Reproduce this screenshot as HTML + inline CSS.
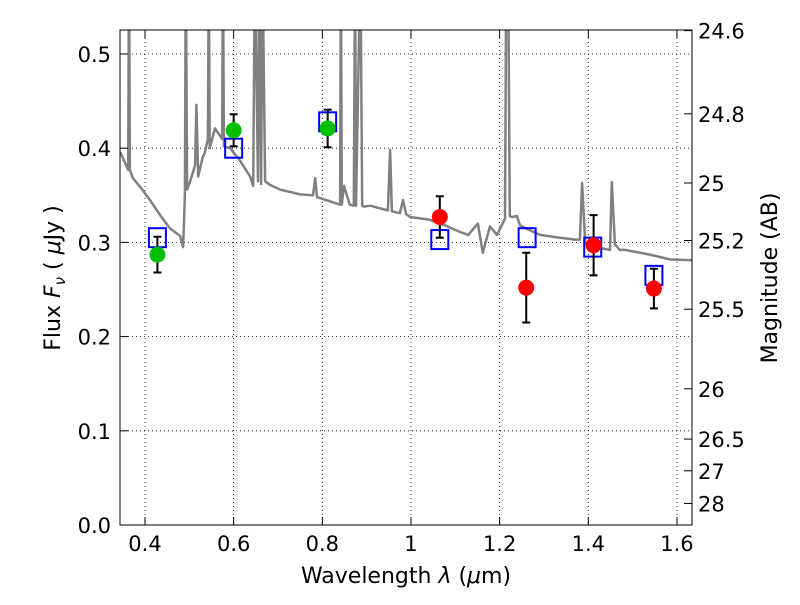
<!DOCTYPE html>
<html><head><meta charset="utf-8"><style>body{margin:0;background:#fff}svg{font-family:"DejaVu Sans","Liberation Sans",sans-serif}</style></head><body>
<svg id="chart" width="800" height="600" xmlns="http://www.w3.org/2000/svg">
<defs><clipPath id="clip"><rect x="120" y="30" width="572" height="495"/></clipPath></defs>
<g id="grid"></g>
<g id="spec" clip-path="url(#clip)"></g>
<g id="marks"></g>
<rect x="120" y="30" width="572" height="495" fill="none" stroke="#000" stroke-width="1"/>
<g id="axes"></g>
<text x="406" y="583" font-size="22" text-anchor="middle">Wavelength  <tspan font-style="italic">λ</tspan> (<tspan font-style="italic">μ</tspan>m)</text>
<text transform="translate(60,278) rotate(-90)" font-size="22" text-anchor="middle">Flux  <tspan font-style="italic">F</tspan><tspan font-style="italic" font-size="15" dy="5">ν</tspan><tspan dy="-5">  ( </tspan><tspan font-style="italic">μ</tspan>Jy )</text>
<text transform="translate(777,278) rotate(-90)" font-size="22" text-anchor="middle">Magnitude (AB)</text>
</svg>
<script>
const specLam=[0.344,0.362,0.364,0.366,0.373,0.389,0.411,0.434,0.456,0.479,0.486,0.490,0.492,0.495,0.502,0.513,0.516,0.520,0.530,0.535,0.542,0.544,0.546,0.558,0.574,0.576,0.578,0.592,0.614,0.637,0.644,0.648,0.655,0.658,0.662,0.665,0.671,0.682,0.705,0.750,0.779,0.784,0.788,0.795,0.840,0.842,0.844,0.849,0.862,0.871,0.874,0.876,0.886,0.890,0.894,0.908,0.948,0.953,0.957,0.975,0.982,0.989,0.998,1.043,1.077,1.111,1.129,1.151,1.162,1.178,1.194,1.212,1.215,1.219,1.223,1.228,1.239,1.246,1.268,1.291,1.336,1.370,1.381,1.386,1.393,1.399,1.426,1.449,1.453,1.460,1.471,1.483,1.539,1.584,1.634];
const specFlux=[0.396,0.377,0.6,0.377,0.368,0.359,0.345,0.329,0.315,0.307,0.295,0.350,0.6,0.356,0.365,0.382,0.446,0.370,0.390,0.395,0.410,0.6,0.400,0.421,0.410,0.6,0.402,0.400,0.387,0.370,0.360,0.6,0.365,0.6,0.362,0.6,0.365,0.361,0.356,0.351,0.350,0.368,0.348,0.347,0.340,0.6,0.340,0.360,0.340,0.339,0.6,0.339,0.6,0.339,0.338,0.339,0.334,0.398,0.333,0.331,0.345,0.330,0.327,0.324,0.318,0.311,0.308,0.320,0.289,0.317,0.308,0.325,0.6,0.6,0.328,0.327,0.328,0.318,0.313,0.308,0.305,0.303,0.303,0.363,0.300,0.297,0.294,0.292,0.364,0.298,0.292,0.292,0.287,0.282,0.281];
const greenLam=[0.428,0.600,0.812];
const greenFlux=[0.287,0.419,0.421];
const greenErr=[0.019,0.017,0.020];
const redLam=[1.065,1.26,1.412,1.548];
const redFlux=[0.327,0.252,0.297,0.251];
const redErr=[0.022,0.037,0.032,0.021];
const modelLam=[0.428,0.600,0.812,1.065,1.262,1.41,1.548];
const modelFlux=[0.305,0.400,0.428,0.303,0.305,0.295,0.265];
const xTicks=[0.4,0.6,0.8,1.0,1.2,1.4,1.6];
const xTickLabels=["0.4","0.6","0.8","1","1.2","1.4","1.6"];
const yTicks=[0,0.1,0.2,0.3,0.4,0.5];
const yTickLabels=["0.0","0.1","0.2","0.3","0.4","0.5"];
const magTicks=[24.6,24.8,25,25.2,25.5,26,26.5,27,28];
const magTickLabels=["24.6","24.8","25","25.2","25.5","26","26.5","27","28"];

const NS="http://www.w3.org/2000/svg";
const X=l=>145+(l-0.4)*443.3;
const Y=f=>525-f*942;
function mk(tag,attrs,parent){const e=document.createElementNS(NS,tag);for(const k in attrs)e.setAttribute(k,attrs[k]);parent.appendChild(e);return e;}
const grid=document.getElementById('grid'),axes=document.getElementById('axes'),spec=document.getElementById('spec'),marks=document.getElementById('marks');
xTicks.forEach((t,i)=>{const x=X(t);
 let g=mk('line',{x1:x,x2:x,y1:30,y2:525,stroke:'#000','stroke-dasharray':'1,3','stroke-width':0.8},grid);
 
 let a=mk('line',{x1:x,x2:x,y1:525,y2:517,stroke:'#000'},axes);
 let b=mk('line',{x1:x,x2:x,y1:30,y2:38,stroke:'#000'},axes);
 let tx=mk('text',{x:x,y:551,'font-size':21,'text-anchor':'middle'},axes);tx.textContent=xTickLabels[i];
 });
yTicks.forEach((t,i)=>{const y=Y(t);
 if(t>0){let g=mk('line',{x1:120,x2:692,y1:y,y2:y,stroke:'#000','stroke-dasharray':'1,3','stroke-width':0.8},grid);
 }
 let a=mk('line',{x1:120,x2:128,y1:y,y2:y,stroke:'#000'},axes);
 let tx=mk('text',{x:111,y:y+8,'font-size':21,'text-anchor':'end'},axes);tx.textContent=yTickLabels[i];
 });
magTicks.forEach((m,i)=>{const y=Y(Math.pow(10,(23.9-m)/2.5));
 let a=mk('line',{x1:684,x2:692,y1:y,y2:y,stroke:'#000'},axes);
 let tx=mk('text',{x:698,y:y+8,'font-size':21},axes);tx.textContent=magTickLabels[i];
 });
let d=specLam.map((l,i)=>(i?'L':'M')+X(l).toFixed(1)+','+Y(specFlux[i]).toFixed(1)).join('');
let p=mk('path',{d:d,fill:'none',stroke:'#808080','stroke-width':2.5,'stroke-linejoin':'round'},spec);

function pts(lam,flux,err,color,name){lam.forEach((l,i)=>{const x=X(l);
 const e=mk('path',{d:`M${x},${Y(flux[i]-err[i])}V${Y(flux[i]+err[i])}M${x-4},${Y(flux[i]-err[i])}h8M${x-4},${Y(flux[i]+err[i])}h8`,stroke:'#000','stroke-width':2,fill:'none'},marks);
 
 const c=mk('circle',{cx:x,cy:Y(flux[i]),r:8,fill:color},marks);
 });}
modelLam.forEach((l,i)=>{const r=mk('rect',{x:X(l)-8.5,y:Y(modelFlux[i])-9.5,width:17,height:19,fill:'none',stroke:'#0000ff','stroke-width':2},marks);
 });
pts(greenLam,greenFlux,greenErr,'#00c000','optical');
pts(redLam,redFlux,redErr,'#ff0000','nir');
</script>
</body></html>
